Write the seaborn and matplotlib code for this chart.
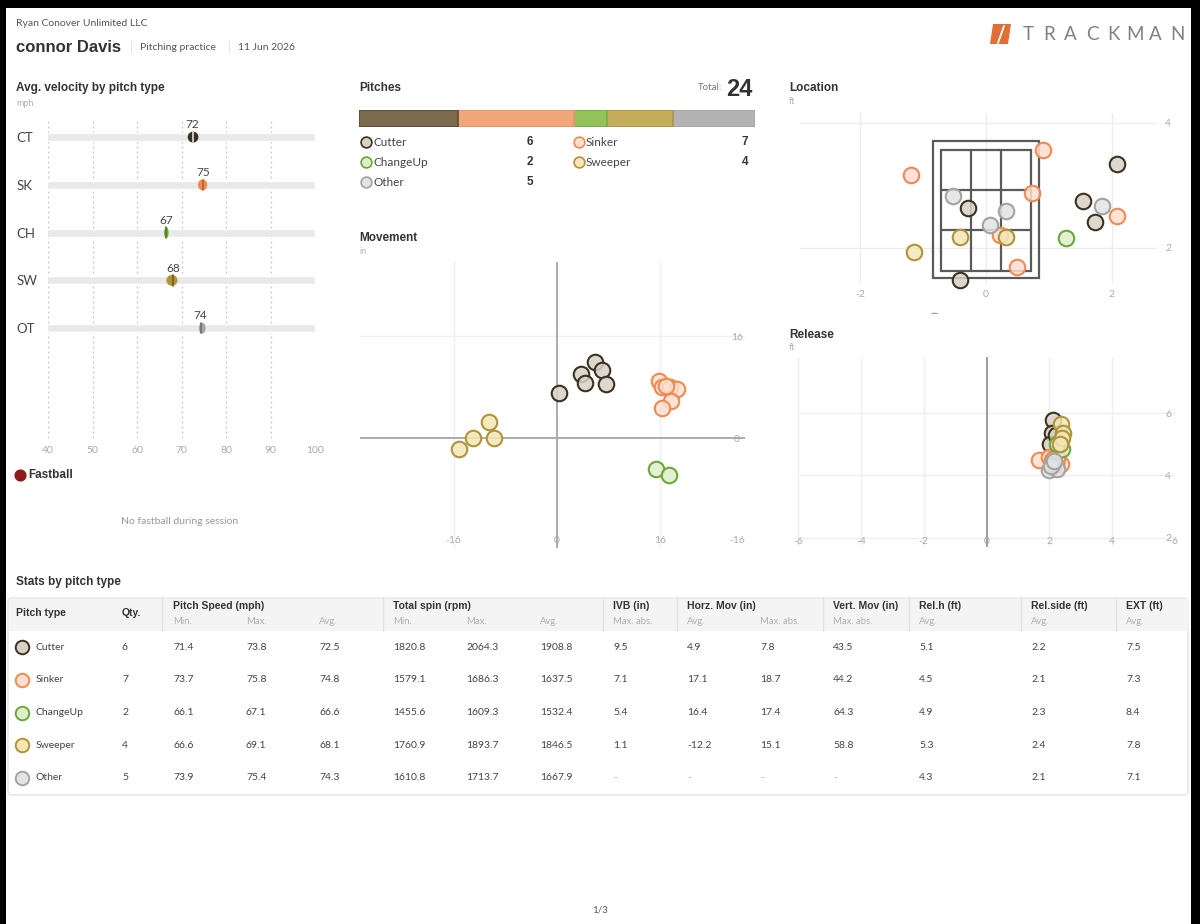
import numpy as np
import pandas as pd
import seaborn as sns
import matplotlib.pyplot as plt
from matplotlib.patches import Ellipse, Rectangle, FancyBboxPatch, Polygon
from matplotlib.colors import to_rgba

W, H = 1200, 924

# ---- data ----
pitch_names = ['Cutter', 'Sinker', 'ChangeUp', 'Sweeper', 'Other']
pitch_abbr = ['CT', 'SK', 'CH', 'SW', 'OT']
pitch_counts = [6, 7, 2, 4, 5]
base_colors = ['#7b6b4e', '#f2a77b', '#93c25b', '#c6ad5b', '#b3b3b3']
edge_colors = ['#3b3222', '#ee8a52', '#6ea63c', '#ae943a', '#a3a3a3']
face_colors = ['#d8d1c6', '#fde0cf', '#dcefc9', '#f4e6b5', '#e3e3e3']
avg_line_colors = ['#e6dfd4', '#b8602f', '#4f7f25', '#6f5e1f', '#6f6f6f']

speed_min = [71.4, 73.7, 66.1, 66.6, 73.9]
speed_max = [73.8, 75.8, 67.1, 69.1, 75.4]
speed_avg = [72.5, 74.8, 66.6, 68.1, 74.3]
spin_min = [1820.8, 1579.1, 1455.6, 1760.9, 1610.8]
spin_max = [2064.3, 1686.3, 1609.3, 1893.7, 1713.7]
spin_avg = [1908.8, 1637.5, 1532.4, 1846.5, 1667.9]
ivb_max = ['9.5', '7.1', '5.4', '1.1', '-']
horz_avg = ['4.9', '17.1', '16.4', '-12.2', '-']
horz_max = ['7.8', '18.7', '17.4', '15.1', '-']
vert_max = ['43.5', '44.2', '64.3', '58.8', '-']
rel_h_avg = [5.1, 4.5, 4.9, 5.3, 4.3]
rel_side_avg = [2.2, 2.1, 2.3, 2.4, 2.1]
ext_avg = [7.5, 7.3, 8.4, 7.8, 7.1]

# movement (in)
mov_type = ['Cutter'] * 6 + ['Sinker'] * 7 + ['ChangeUp'] * 2 + ['Sweeper'] * 4
mov_h = [5.9, 7.1, 3.7, 4.4, 7.7, 0.4,
         15.9, 16.4, 17.5, 18.7, 17.8, 16.3, 17.0,
         15.4, 17.4,
         -10.5, -13.0, -9.7, -15.1]
mov_v = [12.0, 10.7, 10.0, 8.7, 8.5, 7.1,
         8.9, 8.1, 8.0, 7.7, 5.9, 4.8, 8.2,
         -4.9, -5.8,
         2.6, 0.0, 0.0, -1.8]

# location (ft)
loc_type = ['Cutter'] * 5 + ['Sinker'] * 6 + ['ChangeUp'] + ['Sweeper'] * 3 + ['Other'] * 5
loc_x = [2.09, 1.55, 1.73, -0.28, -0.41,
         0.90, -1.20, 0.73, 2.09, 0.22, 0.50,
         1.27,
         -0.41, 0.32, -1.15,
         -0.53, 0.32, 0.06, 1.84, -0.83]
loc_y = [3.34, 2.74, 2.41, 2.64, 1.49,
         3.56, 3.17, 2.88, 2.50, 2.20, 1.69,
         2.16,
         2.17, 2.17, 1.93,
         2.83, 2.58, 2.37, 2.66, 0.82]
zone_inner = (-0.71, 0.71, 1.63, 3.57)
zone_outer = (-0.84, 0.84, 1.51, 3.70)

# release (ft)
rel_type = ['Cutter'] * 6 + ['Sinker'] * 7 + ['ChangeUp'] * 2 + ['Sweeper'] * 4 + ['Other'] * 5
rel_side = [2.13, 2.07, 2.02, 2.24, 2.25, 2.20,
            1.67, 2.36, 2.00, 2.10, 2.20, 2.15, 2.25,
            2.40, 2.25,
            2.36, 2.45, 2.40, 2.35,
            1.99, 2.24, 2.10, 2.05, 2.15]
rel_height = [5.77, 5.35, 5.02, 4.48, 4.52, 5.30,
              4.48, 4.38, 4.60, 4.50, 4.40, 4.55, 4.60,
              4.85, 5.00,
              5.65, 5.35, 5.20, 5.00,
              4.16, 4.20, 4.35, 4.30, 4.45]

# ---- style ----
sns.set_style('white')
plt.rcParams['font.family'] = ['Lato', 'DejaVu Sans']
plt.rcParams['axes.unicode_minus'] = False
BOLD = 'Liberation Sans'
TXT = '#444444'
LIGHT = '#aaaaaa'

fig = plt.figure(figsize=(12, 9.24), dpi=100)


def rect(l, t, r, b):
    return [l / W, 1 - b / H, (r - l) / W, (b - t) / H]


page = fig.add_axes([0, 0, 1, 1], zorder=0)
page.set_xlim(0, W)
page.set_ylim(H, 0)
page.axis('off')


def txt(x, y, s, size=7.5, color=TXT, bold=False, ha='left', va='center', **kw):
    page.text(x, y, s, fontsize=size, color=color, ha=ha, va=va,
              fontweight='bold' if bold else 'normal',
              family=[BOLD, 'DejaVu Sans'] if bold else ['Lato', 'DejaVu Sans'], **kw)


def clean(ax):
    for s in ax.spines.values():
        s.set_visible(False)
    ax.set_facecolor('none')
    ax.set_xlabel('')
    ax.set_ylabel('')
    ax.tick_params(length=0, labelsize=7.5, labelcolor=LIGHT)


def pitch_scatter(ax, xs, ys, types):
    df = pd.DataFrame({'x': xs, 'y': ys, 'type': types})
    for name, fc, ec in zip(pitch_names, face_colors, edge_colors):
        sub = df[df['type'] == name]
        if len(sub):
            sns.scatterplot(data=sub, x='x', y='y', ax=ax, s=125,
                            facecolor=to_rgba(fc, 0.85), edgecolor=ec,
                            linewidth=1.5, zorder=3, legend=False)
    ax.set_xlabel('')
    ax.set_ylabel('')


# ---- header ----
txt(16, 24, 'Ryan Conover Unlimited LLC', size=7.5, color='#555555')
txt(16, 47, 'connor Davis', size=12, color='#333333', bold=True)
txt(130, 47, '|', size=9, color='#dddddd')
txt(140, 48, 'Pitching practice', size=7.5, color='#555555')
txt(228, 47, '|', size=9, color='#dddddd')
txt(238, 48, '11 Jun 2026', size=7.5, color='#555555')
page.add_patch(Polygon([[993, 24], [1011, 24], [1008, 44], [990, 44]], closed=True,
                       fc='#df6f35', ec='none'))
page.plot([1004, 998], [26, 43], color='white', lw=1.3)
for k, ch in enumerate('TRACKMAN'):
    txt(1028 + k * 21.3, 34, ch, size=13.5, color='#808080', ha='center')

# ---- velocity panel ----
txt(16, 88, 'Avg. velocity by pitch type', size=8.5, color='#333333', bold=True)
txt(16, 103, 'mph', size=6.5, color='#b0b0b0')
ax_v = fig.add_axes(rect(48, 118, 315, 438), zorder=2)
sns.barplot(x=[100] * len(pitch_abbr), y=pitch_abbr, orient='h', width=0.17,
            color='#e9e9e9', saturation=1, ax=ax_v, zorder=1)
for i in range(len(pitch_abbr)):
    mid = (speed_min[i] + speed_max[i]) / 2
    ax_v.add_patch(Ellipse((mid, i), speed_max[i] - speed_min[i], 0.23,
                           fc=edge_colors[i], ec='none', zorder=3))
    ax_v.plot([speed_avg[i]] * 2, [i - 0.11, i + 0.11], color=avg_line_colors[i], lw=1.2, zorder=4)
    ax_v.text(speed_avg[i], i - 0.14, f'{speed_avg[i]:.0f}', ha='center', va='bottom',
              fontsize=8.5, color='#444444')
ax_v.set_xlim(40, 100)
ax_v.set_ylim(6.3, -0.4)
ax_v.set_xticks(range(40, 101, 10))
ax_v.grid(axis='x', ls=(0, (1.5, 2.5)), color='#c4c4c4', lw=0.9)
ax_v.set_axisbelow(True)
clean(ax_v)
ax_v.tick_params(axis='x', pad=6)
ax_v.tick_params(axis='y', pad=23, labelsize=9.5, labelcolor=TXT)
for lab in ax_v.get_yticklabels():
    lab.set_ha('left')

page.scatter([20], [475], s=60, color='#8b1a1a', zorder=3)
txt(28, 475, 'Fastball', size=8.5, color='#333333', bold=True)
txt(180, 521, 'No fastball during session', size=7.5, color='#999999', ha='center')

# ---- pitches panel ----
txt(359, 88, 'Pitches', size=8.5, color='#333333', bold=True)
txt(722, 88, 'Total:', size=7, color='#777777', ha='right')
txt(726, 89, str(sum(pitch_counts)), size=17, color='#333333', bold=True)
ax_b = fig.add_axes(rect(359, 110, 755, 127), zorder=2)
cum = np.cumsum(pitch_counts)
seg_edges = ['#5b4d36', '#e8966a', '#7aab45', '#ad9545', '#a5a5a5']
for i in reversed(range(len(pitch_counts))):
    sns.barplot(x=[cum[i]], y=[0], orient='h', width=1, color=base_colors[i],
                edgecolor=seg_edges[i], linewidth=1.2, ax=ax_b, saturation=1)
ax_b.set_xlim(0, sum(pitch_counts))
ax_b.set_ylim(0.5, -0.5)
ax_b.set_xticks([])
ax_b.set_yticks([])
clean(ax_b)

for i, name in enumerate(pitch_names):
    col, row = i % 2, i // 2
    x0 = 366 if col == 0 else 579
    xc = 533 if col == 0 else 748
    y0 = 142 + row * 20
    page.scatter([x0], [y0], s=60, fc=face_colors[i], ec=edge_colors[i], lw=1.2, zorder=3)
    txt(x0 + 7, y0, name, size=8.5, color=TXT)
    txt(xc, y0, str(pitch_counts[i]), size=8.5, color='#333333', bold=True, ha='right')

# ---- movement panel ----
txt(359, 238, 'Movement', size=8.5, color='#333333', bold=True)
txt(359, 251, 'in', size=6.5, color='#b0b0b0')
ax_m = fig.add_axes(rect(360, 262, 745, 548), zorder=2)
for g in [-16, 16]:
    ax_m.axvline(g, color='#efefef', lw=1, zorder=0)
ax_m.axhline(16, color='#efefef', lw=1, zorder=0)
ax_m.axhline(0, color='#a5a5a5', lw=1.3, zorder=1)
ax_m.axvline(0, color='#a5a5a5', lw=1.3, zorder=1)
pitch_scatter(ax_m, mov_h, mov_v, mov_type)
ax_m.set_xlim(-30.5, 29.2)
ax_m.set_ylim(-17.3, 27.7)
ax_m.set_xticks([-16, 0, 16])
ax_m.set_yticks([-16, 0, 16])
ax_m.yaxis.tick_right()
clean(ax_m)
ax_m.tick_params(axis='x', pad=-8.6)
ax_m.tick_params(axis='y', pad=-5.8)
for lab in ax_m.get_yticklabels():
    lab.set_ha('center')

# ---- location panel ----
txt(789, 88, 'Location', size=8.5, color='#333333', bold=True)
txt(789, 101, 'ft', size=6.5, color='#b0b0b0')
ax_l = fig.add_axes(rect(800, 113, 1157, 313), zorder=2)
ax_l.vlines([-2, 0, 2], 1.44, 4.2, color='#ececec', lw=1, zorder=0)
for g in [2, 4]:
    ax_l.axhline(g, color='#ececec', lw=1, zorder=0)
xo0, xo1, yo0, yo1 = zone_outer
xi0, xi1, yi0, yi1 = zone_inner
ax_l.add_patch(Rectangle((xo0, yo0), xo1 - xo0, yo1 - yo0, fc='none', ec='#5a5a5a', lw=1.6, zorder=2))
ax_l.add_patch(Rectangle((xi0, yi0), xi1 - xi0, yi1 - yi0, fc='none', ec='#5a5a5a', lw=1.6, zorder=2))
for k in (1, 2):
    xv = xi0 + (xi1 - xi0) * k / 3
    yv = yi0 + (yi1 - yi0) * k / 3
    ax_l.plot([xv, xv], [yi0, yi1], color='#5a5a5a', lw=1.6, zorder=2)
    ax_l.plot([xi0, xi1], [yv, yv], color='#5a5a5a', lw=1.6, zorder=2)
pitch_scatter(ax_l, loc_x, loc_y, loc_type)
ax_l.set_xlim(-2.957, 2.719)
ax_l.set_ylim(0.955, 4.155)
ax_l.set_xticks([-2, 0, 2])
ax_l.set_yticks([2, 4])
ax_l.yaxis.tick_right()
clean(ax_l)
ax_l.tick_params(axis='x', pad=-16.6)
ax_l.tick_params(axis='y', pad=5.8)

# ---- release panel ----
txt(789, 335, 'Release', size=8.5, color='#333333', bold=True)
txt(789, 348, 'ft', size=6.5, color='#b0b0b0')
ax_r = fig.add_axes(rect(798, 357, 1175, 547), zorder=2)
for g in [-6, -4, -2, 2, 4, 6]:
    ax_r.axvline(g, color='#efefef', lw=1, zorder=0)
for g in [2, 4, 6]:
    ax_r.axhline(g, color='#efefef', lw=1, zorder=0)
ax_r.axvline(0, color='#a0a0a0', lw=1.5, zorder=1)
pitch_scatter(ax_r, rel_side, rel_height, rel_type)
ax_r.set_xlim(-6, 6)
ax_r.set_ylim(1.7, 7.8)
ax_r.set_xticks(range(-6, 7, 2))
ax_r.set_yticks([2, 4, 6])
ax_r.yaxis.tick_right()
clean(ax_r)
ax_r.tick_params(axis='x', pad=-7)
ax_r.tick_params(axis='y', pad=-5)
for lab in ax_r.get_yticklabels():
    lab.set_ha('center')

# ---- stats table ----
txt(16, 582, 'Stats by pitch type', size=8.5, color='#333333', bold=True)
page.add_patch(FancyBboxPatch((8, 598), 1180, 197, boxstyle='round,pad=0,rounding_size=4',
                              fc='white', ec='#e4e4e4', lw=1, zorder=1))
page.add_patch(Rectangle((8.5, 598.5), 1179, 32, fc='#f4f4f4', ec='none', zorder=1))
for xs in [162, 383, 603, 677, 823, 909, 1021, 1116]:
    page.plot([xs, xs], [598, 631], color='#e2e2e2', lw=1, zorder=2)

txt(16, 613, 'Pitch type', size=7.5, color='#333333', bold=True)
txt(122, 613, 'Qty.', size=7.5, color='#333333', bold=True)
groups = [(173, 'Pitch Speed (mph)'), (393, 'Total spin (rpm)'), (613, 'IVB (in)'),
          (687, 'Horz. Mov (in)'), (833, 'Vert. Mov (in)'), (919, 'Rel.h (ft)'),
          (1031, 'Rel.side (ft)'), (1126, 'EXT (ft)')]
for gx, gl in groups:
    txt(gx, 606, gl, size=7.5, color='#333333', bold=True)
subs = [(173, 'Min.'), (246, 'Max.'), (319, 'Avg.'), (393, 'Min.'), (466, 'Max.'), (540, 'Avg.'),
        (613, 'Max. abs.'), (687, 'Avg.'), (760, 'Max. abs.'), (833, 'Max. abs.'),
        (919, 'Avg.'), (1031, 'Avg.'), (1126, 'Avg.')]
for sx, sl in subs:
    txt(sx, 621, sl, size=6.8, color='#b0b0b0')

col_x = [122, 173, 246, 319, 393, 466, 540, 613, 687, 760, 833, 919, 1031, 1126]
for i, name in enumerate(pitch_names):
    y0 = 647 + i * 32.75
    page.scatter([22], [y0], s=95, fc=face_colors[i], ec=edge_colors[i], lw=1.4, zorder=3)
    txt(36, y0, name, size=7.5, color=TXT)
    vals = [str(pitch_counts[i]), f'{speed_min[i]:.1f}', f'{speed_max[i]:.1f}', f'{speed_avg[i]:.1f}',
            f'{spin_min[i]:.1f}', f'{spin_max[i]:.1f}', f'{spin_avg[i]:.1f}',
            ivb_max[i], horz_avg[i], horz_max[i], vert_max[i],
            f'{rel_h_avg[i]:.1f}', f'{rel_side_avg[i]:.1f}', f'{ext_avg[i]:.1f}']
    for cx, v in zip(col_x, vals):
        txt(cx, y0, v, size=7.5, color=LIGHT if v == '-' else TXT)

txt(600, 910, '1/3', size=7, color='#555555', ha='center')

# black frame of the screenshot
for r in [(0, 0, 1200, 8), (0, 0, 6, 924), (1191, 0, 9, 924)]:
    page.add_patch(Rectangle((r[0], r[1]), r[2], r[3], fc='black', ec='none', zorder=10))

fig.savefig('out.png', dpi=100, facecolor='white')
